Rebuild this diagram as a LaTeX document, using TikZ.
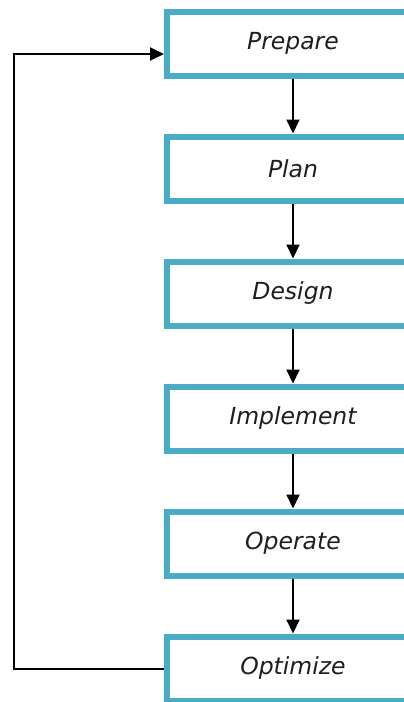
\documentclass[tikz,border=0pt]{standalone}
\usepackage{fontspec}
\newfontfamily\boxfont{DejaVu Sans}
\usetikzlibrary{arrows.meta, positioning}
\definecolor{stepblue}{RGB}{75, 172, 198}
\definecolor{textgray}{RGB}{30, 30, 30}

\begin{document}
\begin{tikzpicture}[
  x=1pt, y=-1pt,
  phase/.style={draw=stepblue, line width=6pt, fill=white, minimum width=252pt, minimum height=64pt, font=\boxfont\itshape\fontsize{23.5}{28}\selectfont, text=textgray, inner sep=0pt},
  flow/.style={-{Triangle[length=14pt, width=13pt]}, line width=2pt, black}
]
  \useasboundingbox (0,0) rectangle (404,702);
  \clip (0,0) rectangle (404,702);
  \fill[white] (0,0) rectangle (404,702);

  % The six phases
  \node[phase] (prepare)   at (293, 43.5)  {Prepare};
  \node[phase] (plan)      at (293, 168.5) {Plan};
  \node[phase] (design)    at (293, 293.5) {Design};
  \node[phase] (implement) at (293, 418.5) {Implement};
  \node[phase] (operate)   at (293, 543.5) {Operate};
  \node[phase] (optimize)  at (293, 668.5) {Optimize};

  % Arrows down
  \draw[flow] (prepare) -- (plan);
  \draw[flow] (plan) -- (design);
  \draw[flow] (design) -- (implement);
  \draw[flow] (implement) -- (operate);
  \draw[flow] (operate) -- (optimize);

  % Back to the start
  \coordinate (loop) at (14, 54);
  \draw[flow] (optimize.west) -| (loop) -- ([yshift=-10.5pt]prepare.west);
\end{tikzpicture}
\end{document}
